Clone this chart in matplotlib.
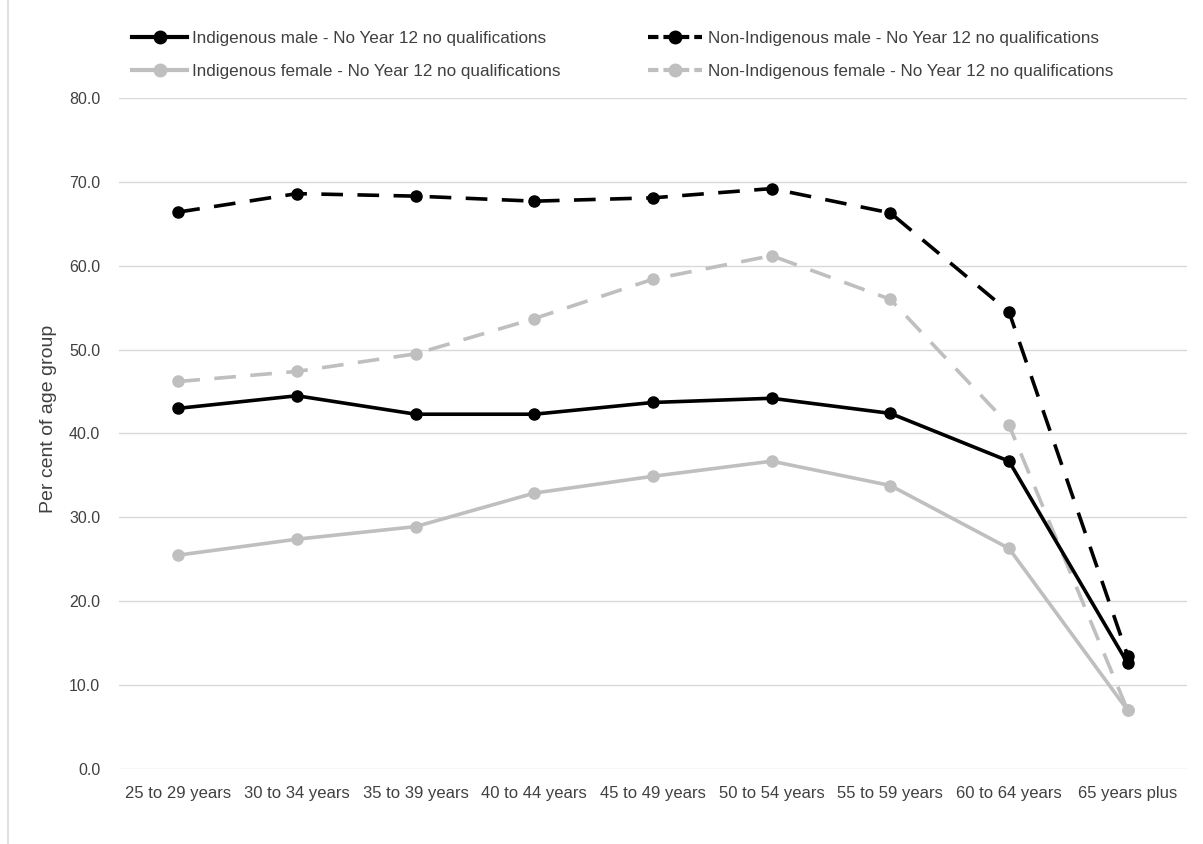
import matplotlib
matplotlib.use("Agg")
import matplotlib.pyplot as plt
from matplotlib.lines import Line2D

plt.rcParams['font.family'] = ['Liberation Sans', 'DejaVu Sans']

age_groups = ["25 to 29 years", "30 to 34 years", "35 to 39 years", "40 to 44 years",
              "45 to 49 years", "50 to 54 years", "55 to 59 years", "60 to 64 years",
              "65 years plus"]

indig_male = [43.0, 44.5, 42.3, 42.3, 43.7, 44.2, 42.4, 36.7, 12.6]
nonindig_male = [66.4, 68.6, 68.3, 67.7, 68.1, 69.2, 66.3, 54.5, 13.5]
indig_female = [25.5, 27.4, 28.9, 32.9, 34.9, 36.7, 33.8, 26.3, 7.0]
nonindig_female = [46.2, 47.4, 49.5, 53.7, 58.4, 61.2, 56.0, 41.0, 7.0]

series_labels = [
    "Indigenous male - No Year 12 no qualifications",
    "Non-Indigenous male - No Year 12 no qualifications",
    "Indigenous female - No Year 12 no qualifications",
    "Non-Indigenous female - No Year 12 no qualifications",
]

black = "#000000"
grey = "#BFBFBF"
text_col = "#404040"
dash = (0, (6, 4))

fig = plt.figure(figsize=(12.03, 8.44), dpi=100)
ax = fig.add_axes([119 / 1203, 1 - 769 / 844, (1187 - 119) / 1203, (769 - 98) / 844])

x = list(range(len(age_groups)))
styles = [
    (indig_female, grey, "-"),
    (nonindig_female, grey, dash),
    (indig_male, black, "-"),
    (nonindig_male, black, dash),
]
for vals, col, ls in styles:
    ax.plot(x, vals, color=col, linestyle=ls, linewidth=2.6, marker="o",
            markersize=8, solid_capstyle="round", dash_capstyle="butt", zorder=3)

ax.set_xlim(-0.5, len(age_groups) - 0.5)
ax.set_ylim(0, 80)
ax.set_yticks(range(0, 81, 10))
ax.set_yticklabels([f"{v:.1f}" for v in range(0, 81, 10)])
ax.set_xticks(x)
ax.set_xticklabels(age_groups)
ax.tick_params(axis="both", length=0, colors=text_col)
ax.tick_params(axis="y", pad=13.5, labelsize=11.5)
ax.tick_params(axis="x", pad=12, labelsize=12)
ax.grid(axis="y", color="#D9D9D9", linewidth=1)
ax.set_axisbelow(True)
for s in ax.spines.values():
    s.set_visible(False)
ax.set_ylabel("Per cent of age group", fontsize=14, color=text_col)
ax.yaxis.set_label_coords(-0.058, 0.522)

legend_handles = [
    Line2D([], [], color=black, linestyle="-", linewidth=3, marker="o", markersize=9),
    Line2D([], [], color=grey, linestyle="-", linewidth=3, marker="o", markersize=9),
    Line2D([], [], color=black, linestyle=(0, (2.5, 1.2)), linewidth=3, marker="o", markersize=9),
    Line2D([], [], color=grey, linestyle=(0, (2.5, 1.2)), linewidth=3, marker="o", markersize=9),
]
labels = [series_labels[0], series_labels[2], series_labels[1], series_labels[3]]
fig.legend(legend_handles, labels, ncol=2, loc="upper left",
           bbox_to_anchor=(117 / 1203, 1 - 16 / 844),
           frameon=False, fontsize=12.3, handlelength=3.2, handletextpad=0.3,
           columnspacing=5.1, labelspacing=1.05, labelcolor=text_col)

# light frame line along the left edge of the chart area
fig.add_artist(Line2D([8 / 1203, 8 / 1203], [0, 1], color="#D9D9D9", linewidth=1.2,
                      transform=fig.transFigure))

fig.savefig("out.png", dpi=100, facecolor="white")
